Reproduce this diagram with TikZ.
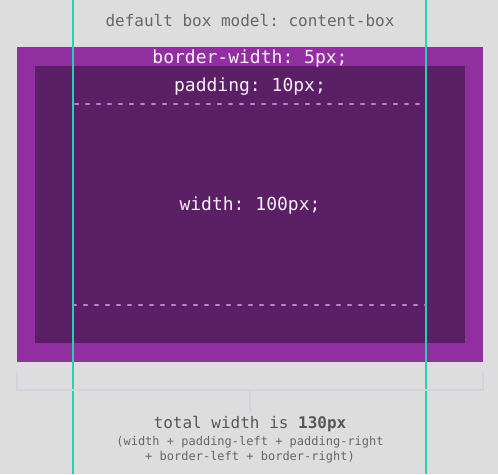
\documentclass[tikz,border=0pt]{standalone}
\usepackage{fontspec}
\setmonofont{DejaVu Sans Mono}
\usetikzlibrary{positioning}
\definecolor{bmback}{HTML}{DDDDDD}
\definecolor{bmborder}{HTML}{912FA0}
\definecolor{bmpadding}{HTML}{5B1F66}
\definecolor{bmteal}{HTML}{22D3B2}
\definecolor{bmdash}{HTML}{C57CD6}
\definecolor{bmgrey}{HTML}{666666}
\definecolor{bmbracket}{HTML}{D2D2E2}

\begin{document}
\begin{tikzpicture}[
          x=1pt, y=-1pt,
          layer/.style={inner sep=0pt, outer sep=0pt},
          borderbox/.style={layer, fill=bmborder, minimum width=466pt, minimum height=315pt},
          padbox/.style={layer, fill=bmpadding, minimum width=430pt, minimum height=277pt},
          contentbox/.style={layer, draw=bmdash, line width=2.2pt, line cap=round,
                      dash pattern=on 3pt off 8pt, minimum width=353pt, minimum height=201pt},
          boxlabel/.style={font=\ttfamily\fontsize{18}{21}\selectfont, text=white!92!bmborder, inner sep=0pt},
          title/.style={font=\ttfamily\fontsize{16}{19}\selectfont, text=bmgrey, inner sep=0pt},
          note/.style={font=\ttfamily\fontsize{12}{15}\selectfont, text=bmgrey, align=center, inner sep=0pt},
          guide/.style={bmteal, line width=2pt},
          bracket/.style={bmbracket, line width=1.5pt}
        ]
        \useasboundingbox[fill=bmback] (0,0) rectangle (498,474);
        \node[title] (heading) at (250,20) {default box model: content-box};
        \node[borderbox] (border) at (250,204.5) {};
        \node[padbox] (padding) at (250,204.5) {};
        \node[contentbox] (content) at (249.5,204.5) {};
        \node[boxlabel] (borderlbl) at (250,58.5) {border-width: 5px;};
        \node[boxlabel] (paddinglbl) at (250,86.5) {padding: 10px;};
        \node[boxlabel] (widthlbl) at (250,206) {width: 100px;};
        % guides at the content edges
        \coordinate (gl top) at (content.west |- 0,0);
        \coordinate (gl bot) at (content.west |- 0,474);
        \coordinate (gr top) at (content.east |- 0,0);
        \coordinate (gr bot) at (content.east |- 0,474);
        \draw[guide] (gl top) -- (gl bot);
        \draw[guide] (gr top) -- (gr bot);
        % total width bracket
        \coordinate (bl) at ([yshift=-10pt]border.south west);
        \coordinate (br) at ([yshift=-10pt]border.south east);
        \coordinate (bmid) at (250,390);
        \coordinate (btick) at (250,412);
        \draw[bracket] (bl) |- (bmid) -| (br);
        \draw[bracket] (bmid) -- (btick);
        \node[title, text=bmgrey!85!black] (total) at (250,424.5) {total width is \textbf{130px}};
        \node[note, below=4pt of total] (sum) {(width + padding-left + padding-right\\+ border-left + border-right)};
      \end{tikzpicture}
\end{document}
